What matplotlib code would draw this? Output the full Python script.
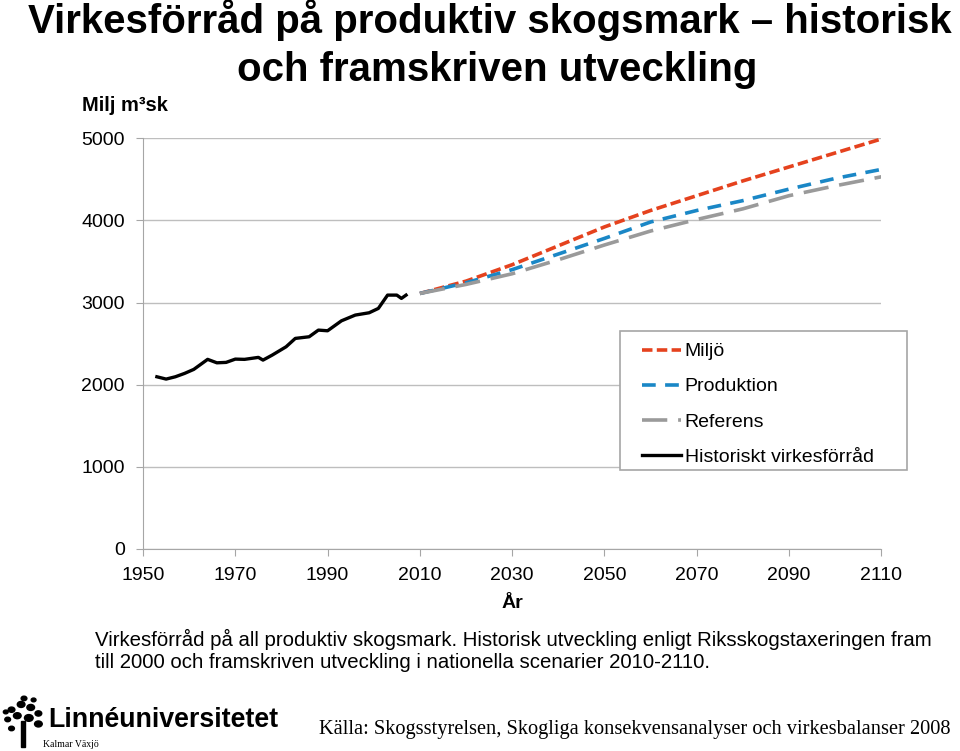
import matplotlib
matplotlib.use("Agg")
import matplotlib.pyplot as plt
from matplotlib.patches import Circle, Rectangle

plt.rcParams['font.family'] = ['Liberation Sans', 'DejaVu Sans']

# historiskt virkesförråd (Milj m3sk)
hist_years = [1953, 1955, 1957, 1959, 1961, 1964, 1966, 1968, 1970, 1972, 1975,
              1976, 1978, 1981, 1983, 1986, 1988, 1990, 1993, 1996, 1999, 2001,
              2003, 2005, 2006, 2007]
hist_vals = [2096, 2068, 2096, 2137, 2186, 2308, 2266, 2271, 2311, 2308, 2332,
             2299, 2360, 2461, 2563, 2583, 2664, 2656, 2777, 2847, 2875, 2928,
             3090, 3090, 3050, 3090]

# scenarier 2010-2110
scen_years = [2010, 2020, 2030, 2040, 2050, 2060, 2070, 2080, 2090, 2100, 2110]
miljo = [3110, 3260, 3460, 3690, 3920, 4120, 4300, 4480, 4650, 4820, 4990]
produktion = [3110, 3240, 3400, 3590, 3780, 3980, 4120, 4240, 4380, 4510, 4620]
referens = [3110, 3220, 3350, 3520, 3700, 3870, 4010, 4140, 4300, 4420, 4530]

x_ticks = list(range(1950, 2111, 20))
y_ticks = [0, 1000, 2000, 3000, 4000, 5000]

fig = plt.figure(figsize=(9.6, 7.51), dpi=100)
ax = fig.add_axes([0.149, 0.269, 0.769, 0.547])

ax.plot(scen_years, miljo, color='#E5421E', lw=2.6, linestyle=(0, (2.9, 1.2)),
        label='Miljö')
ax.plot(scen_years, produktion, color='#1A87C6', lw=2.6, linestyle=(0, (3.8, 2.6)),
        label='Produktion')
ax.plot(scen_years, referens, color='#9A9A9A', lw=2.6, linestyle=(0, (7.0, 3.0)),
        label='Referens')
ax.plot(hist_years, hist_vals, color='black', lw=2.4,
        label='Historiskt virkesförråd')

ax.set_xlim(1950, 2110)
ax.set_ylim(0, 5000)
ax.set_xticks(x_ticks)
ax.set_yticks(y_ticks)
ax.grid(axis='y', color='#BEBEBE', lw=1)
ax.set_axisbelow(True)
for s in ['top', 'right']:
    ax.spines[s].set_visible(False)
for s in ['left', 'bottom']:
    ax.spines[s].set_color('#A6A6A6')
ax.tick_params(axis='both', colors='#A6A6A6', labelcolor='black', labelsize=14,
               length=5, direction='out')
ax.tick_params(axis='y', pad=8)
ax.tick_params(axis='x', pad=8)
ax.set_xlabel('År', fontsize=14, fontweight='bold', labelpad=8)

# legendram ritas separat
ax.add_patch(Rectangle((0.6463, 0.1922), 0.3889, 0.3382, transform=ax.transAxes,
                       facecolor='white', edgecolor='#A6A6A6', lw=1.2,
                       clip_on=False, zorder=4))
leg = ax.legend(loc='upper left', bbox_to_anchor=(0.676, 0.502), fontsize=14,
                frameon=False, handlelength=2.0, handletextpad=0.2,
                labelspacing=0.9, borderpad=0, borderaxespad=0)
leg.set_zorder(5)

fig.text(0.51, 0.973, 'Virkesförråd på produktiv skogsmark – historisk',
         ha='center', va='center', fontsize=29, fontweight='bold')
fig.text(0.518, 0.907, 'och framskriven utveckling', ha='center', va='center',
         fontsize=29, fontweight='bold')
fig.text(0.085, 0.859, 'Milj m³sk', ha='left', va='center', fontsize=14.5,
         fontweight='bold')

fig.text(0.099, 0.148, 'Virkesförråd på all produktiv skogsmark. Historisk utveckling '
         'enligt Riksskogstaxeringen fram', ha='left', va='center', fontsize=14.7)
fig.text(0.099, 0.118, 'till 2000 och framskriven utveckling i nationella scenarier '
         '2010-2110.', ha='left', va='center', fontsize=14.7)

fig.text(0.99, 0.029, 'Källa: Skogsstyrelsen, Skogliga konsekvensanalyser och '
         'virkesbalanser 2008', ha='right', va='center', fontsize=14.7,
         family=['Liberation Serif', 'DejaVu Serif'])

# logotyp
fig.text(0.05, 0.041, 'Linnéuniversitetet', ha='left', va='center', fontsize=19.3,
         fontweight='bold')
fig.text(0.045, 0.009, 'Kalmar Växjö', ha='left', va='center', fontsize=7,
         family=['Liberation Serif', 'DejaVu Serif'])
for cx, cy, r in [(0.012, 0.055, 0.0035), (0.022, 0.062, 0.004), (0.032, 0.058, 0.004),
                  (0.040, 0.050, 0.0035), (0.008, 0.042, 0.003), (0.018, 0.047, 0.004),
                  (0.030, 0.044, 0.0045), (0.040, 0.036, 0.004), (0.012, 0.030, 0.003),
                  (0.025, 0.070, 0.003), (0.035, 0.068, 0.0025), (0.006, 0.052, 0.0025)]:
    fig.patches.append(Circle((cx, cy), r, transform=fig.transFigure, color='black'))
fig.patches.append(Rectangle((0.022, 0.005), 0.004, 0.035, transform=fig.transFigure,
                             color='black'))

fig.savefig('out.png', dpi=100)
